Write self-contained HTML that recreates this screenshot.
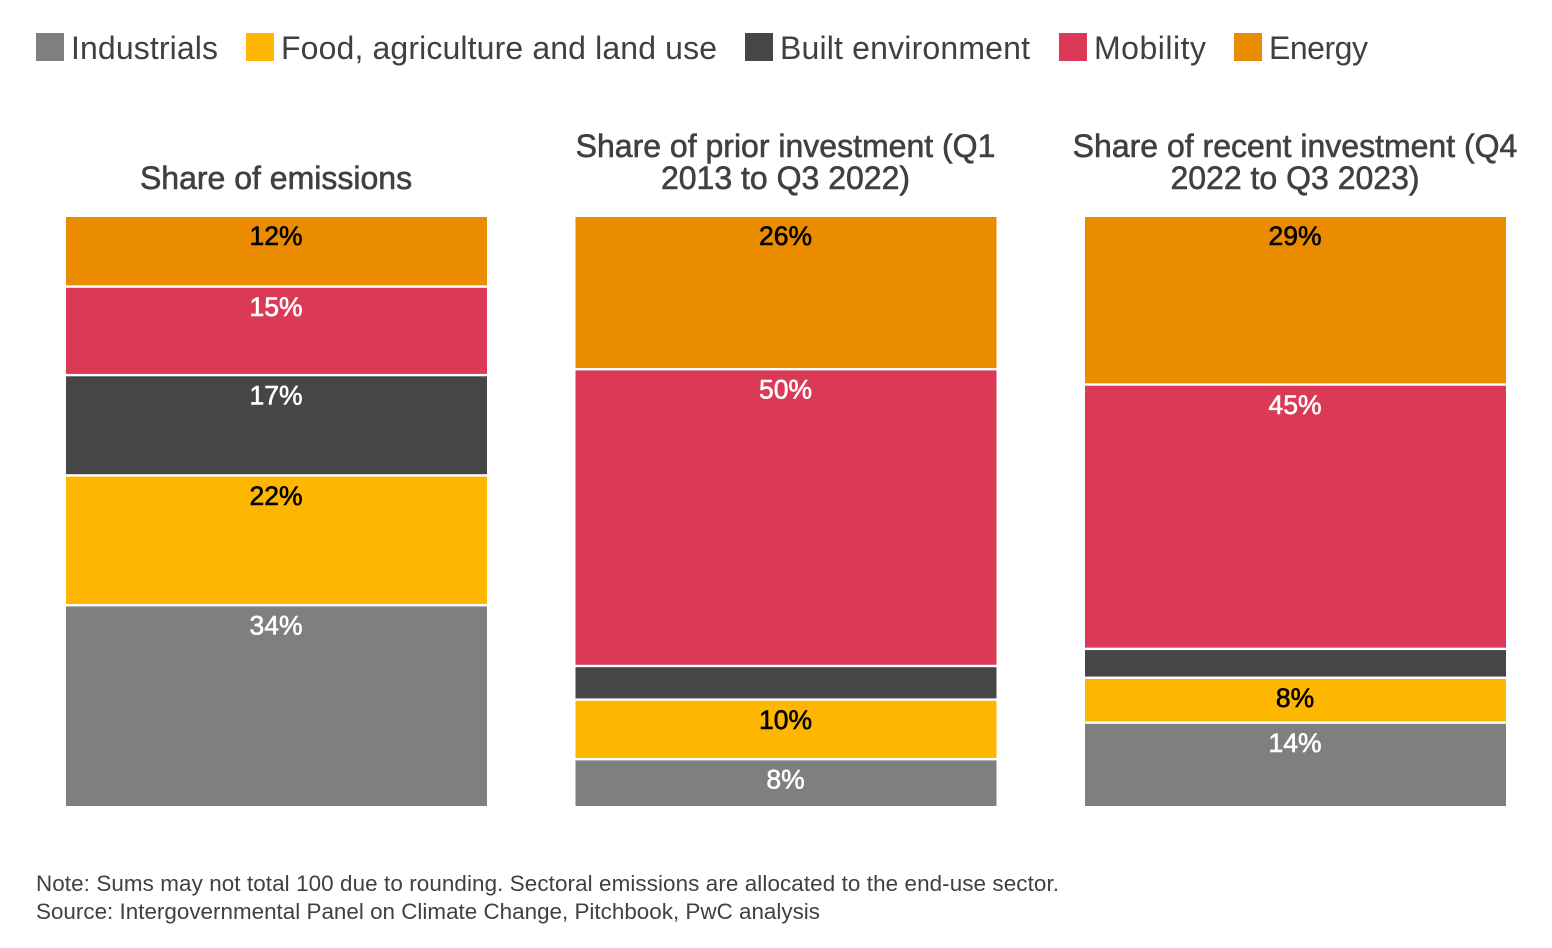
<!DOCTYPE html>
<html lang="en">
<head>
<meta charset="utf-8">
<title>Share of emissions and investment by sector</title>
<style>
html,body{margin:0;padding:0;background:#fff;width:1552px;height:948px;overflow:hidden}
svg{display:block;font-family:"Liberation Sans",Arial,sans-serif}
</style>
</head>
<body>
<svg id="chart" xmlns="http://www.w3.org/2000/svg" width="1552" height="948" viewBox="0 0 1552 948">
  <g id="legend"></g>
  <g id="panels"></g>
  <text x="36" y="891" font-size="22.4" fill="#404040" textLength="1023" lengthAdjust="spacing">Note: Sums may not total 100 due to rounding. Sectoral emissions are allocated to the end-use sector.</text>
  <text x="36" y="919" font-size="22.4" fill="#404040" textLength="784" lengthAdjust="spacing">Source: Intergovernmental Panel on Climate Change, Pitchbook, PwC analysis</text>
</svg>
<script>
const categories = ['Industrials', 'Food, agriculture and land use', 'Built environment', 'Mobility', 'Energy'];
const emissionsValues = [34, 22, 17, 15, 12];
const priorValues = [7.9, 10.1, 5.7, 50.3, 26];
const recentValues = [14.1, 7.6, 4.9, 44.8, 28.6];
const emissionsLabels = ['34%', '22%', '17%', '15%', '12%'];
const priorLabels = ['8%', '10%', '', '50%', '26%'];
const recentLabels = ['14%', '8%', '', '45%', '29%'];
const panelTitles = [['Share of emissions'], ['Share of prior investment (Q1', '2013 to Q3 2022)'], ['Share of recent investment (Q4', '2022 to Q3 2023)']];

const colors = ['#7f7f7f', '#ffb600', '#464646', '#db3a56', '#eb8c00'];
const labelColors = ['#fff', '#000', '#fff', '#fff', '#000'];
const legendX = [36, 246, 745, 1059, 1234];
const legendTextWidths = [147, 436, 250, 112, 99];
const panelLeft = [66, 575.5, 1085];
const panelSeries = [emissionsValues, priorValues, recentValues];
const panelLabels = [emissionsLabels, priorLabels, recentLabels];
const barWidth = 421;
const plotTop = 216;
const plotBottom = 806;
const gap = 2.8;
const NS = 'http://www.w3.org/2000/svg';

function yScale(v) {
  return plotBottom - (v / 100) * (plotBottom - plotTop);
}
function make(tag, attrs, parent) {
  const el = document.createElementNS(NS, tag);
  for (const k in attrs) el.setAttribute(k, attrs[k]);
  parent.appendChild(el);
  return el;
}

const legend = document.getElementById('legend');
categories.forEach(function (name, i) {
  const swatch = make('rect', {x: legendX[i], y: 33, width: 28, height: 28, fill: colors[i]}, legend);
  
  
  const label = make('text', {x: legendX[i] + 35, y: 59, 'font-size': 32, fill: '#404040', textLength: legendTextWidths[i], lengthAdjust: 'spacing'}, legend);
  
  
  label.textContent = name;
});

const panels = document.getElementById('panels');
panelSeries.forEach(function (series, p) {
  const left = panelLeft[p];
  const cx = left + barWidth / 2;
  const g = make('g', {}, panels);
  
  
  const lines = panelTitles[p];
  lines.forEach(function (line, li) {
    const t = make('text', {x: cx - 0.5, y: 189 - (lines.length - 1 - li) * 32, 'text-anchor': 'middle', 'font-size': 32, fill: '#404040', stroke: '#404040', 'stroke-width': 0.6}, g);
    
    
    t.textContent = line;
  });
  let cumulative = 0;
  series.forEach(function (v, i) {
    const yBottom = yScale(cumulative);
    const trimBottom = i === 0 ? 0 : gap / 2;
    cumulative += v;
    const yTop = yScale(cumulative);
    const bar = make('rect', {x: left, y: yTop + gap / 2 - 0.4, width: barWidth, height: yBottom - yTop - gap / 2 + 0.4 - trimBottom, fill: colors[i]}, g);
    
    
    const text = panelLabels[p][i];
    if (text) {
      const t = make('text', {x: cx - 0.5, y: yTop + 29.2, 'text-anchor': 'middle', 'font-size': 26.5, fill: labelColors[i], stroke: labelColors[i], 'stroke-width': 0.6}, g);
      
      
      t.textContent = text;
    }
  });
});
</script>
</body>
</html>
